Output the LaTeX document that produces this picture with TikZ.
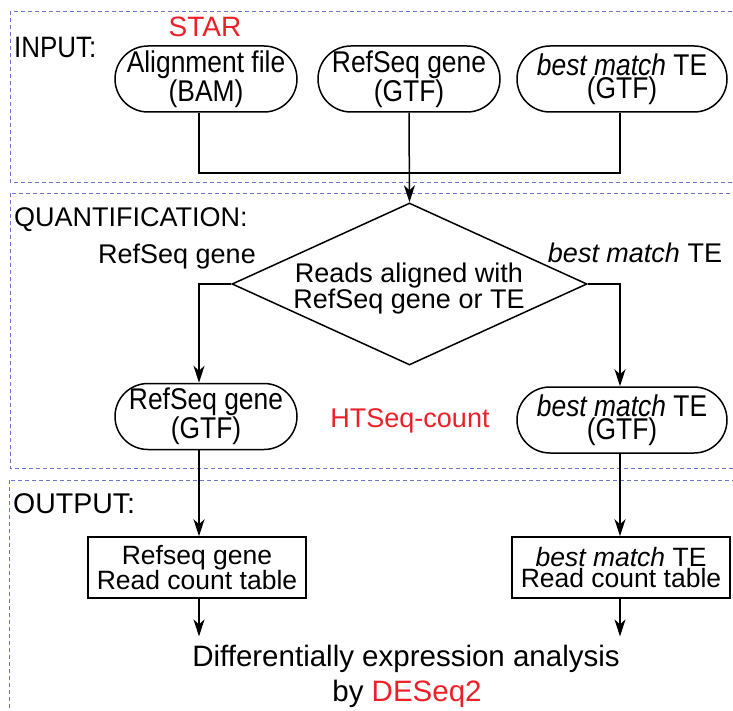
\documentclass[tikz,border=0pt]{standalone}
\usepackage{fontspec}
\setmainfont{Liberation Sans}
\newfontfamily\narrowsans[FakeStretch=0.88]{Liberation Sans}
\usetikzlibrary{shapes.geometric,arrows.meta}
\definecolor{frameblue}{RGB}{112,112,205}
\definecolor{labelred}{RGB}{235,32,40}

\begin{document}
\begin{tikzpicture}[x=1pt,y=-1pt,
  every node/.style={inner sep=0pt, font=\fontsize{27}{24}\selectfont},
  frame/.style={draw=frameblue, line width=0.9pt, dash pattern=on 4pt off 3pt},
  term/.style={draw, line width=1.5pt, rounded corners=33pt, minimum width=182pt,
               minimum height=66pt, align=center,
               font=\narrowsans\fontsize{30}{23}\selectfont,
               execute at begin node={\rule{0pt}{31pt}}},
  wideterm/.style={term, minimum width=210pt},
  tablebox/.style={draw, line width=1.5pt, minimum width=218pt, minimum height=61pt,
                   align=center, font=\fontsize{26.5}{21}\selectfont},
  stagelabel/.style={anchor=base west},
  link/.style={line width=1.5pt},
  flow/.style={line width=1.5pt, -{Stealth[length=17pt,width=11pt,inset=5pt]}},
  redlabel/.style={text=labelred}
]
\useasboundingbox (0,0) rectangle (733,711);
\clip (0,0) rectangle (733,711);

% stage frames
\draw[frame] (10,11) rectangle (760,182);
\draw[frame] (10,193) rectangle (760,468);
\draw[frame] (9,480) rectangle (760,740);

% column guides
\coordinate (lx) at (199,0);
\coordinate (rx) at (620,0);
\coordinate (jn) at (409,173);

% input stage
\node[stagelabel, font=\narrowsans\fontsize{29.5}{29}\selectfont] (inlab) at (14,58) {INPUT:};
\node[anchor=base, redlabel, font=\fontsize{28}{28}\selectfont] (star) at (205,37) {STAR};
\node[term] (bam) at (206,79) {Alignment file\\(BAM)};
\node[term] (gtf1) at (409,79) {RefSeq gene\\(GTF)};
\node[wideterm] (te1) at (622,79) {\textit{best match} TE\\(GTF)};

% quantification stage
\node[stagelabel] (qlab) at (14,227) {QUANTIFICATION:};
\node[draw, diamond, line width=1.5pt, minimum width=355pt, minimum height=162pt] (dia) at (409.5,284) {};
\node[align=center, font=\fontsize{27}{26}\selectfont] (diatext) at (409,289) {Reads aligned with\\RefSeq gene or TE};
\node[anchor=base] (leftlab) at (177,263) {RefSeq gene};
\node[anchor=base] (rightlab) at (635,262) {\textit{best match} TE};
\node[term] (gtf2) at (206,416.5) {RefSeq gene\\(GTF)};
\node[wideterm] (te2) at (622,420) {\textit{best match} TE\\(GTF)};
\node[anchor=base, redlabel] (htseq) at (410,427) {HTSeq-count};

% output stage
\node[stagelabel, font=\fontsize{28.5}{28}\selectfont] (outlab) at (13,513) {OUTPUT:};
\node[tablebox] (tab1) at (197,567.5) {Refseq gene\\Read count table};
\node[tablebox] (tab2) at (621,567.5) {\textit{best match} TE\\Read count table};
\node[anchor=base, inner ysep=8pt, font=\fontsize{29.5}{29}\selectfont] (de1) at (406,666) {Differentially expression analysis};
\node[anchor=base, font=\fontsize{29.5}{29}\selectfont] (de2) at (407,701) {by \textcolor{labelred}{DESeq2}};

% connectors
\draw[link] (bam.south -| lx) -- (lx |- jn) -- (rx |- jn) -- (te1.south -| rx);
\draw[flow] (gtf1.south) -- (dia.north);
\draw[flow] (dia.west) -| (lx |- gtf2.north);
\draw[flow] (dia.east) -| (rx |- te2.north);
\draw[flow] (gtf2.south -| lx) -- (lx |- tab1.north);
\draw[flow] (te2.south -| rx) -- (rx |- tab2.north);
\draw[flow] (tab1.south -| lx) -- (lx |- de1.north);
\draw[flow] (tab2.south -| rx) -- (rx |- de1.north);
\end{tikzpicture}
\end{document}
